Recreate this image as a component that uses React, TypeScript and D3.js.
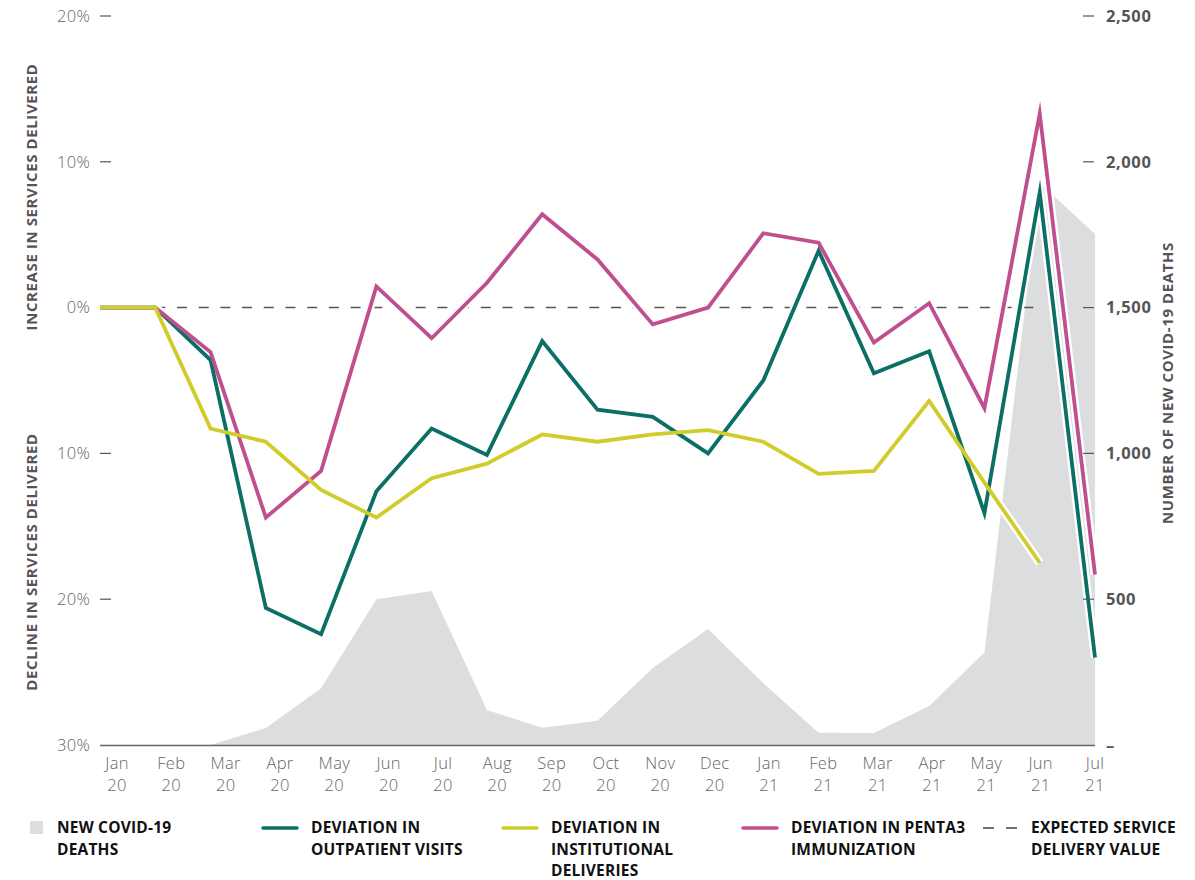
import React from 'react';
import * as d3 from 'd3';

const W = 1195;
const H = 880;

const months = [
  'Jan 20', 'Feb 20', 'Mar 20', 'Apr 20', 'May 20', 'Jun 20', 'Jul 20', 'Aug 20', 'Sep 20', 'Oct 20',
  'Nov 20', 'Dec 20', 'Jan 21', 'Feb 21', 'Mar 21', 'Apr 21', 'May 21', 'Jun 21', 'Jul 21',
];
// new covid-19 deaths per month (right axis)
const deaths = [0, 0, 0, 58, 195, 500, 528, 120, 59, 83, 264, 398, 212, 42, 41, 134, 317, 1927, 1752];
// % deviation from expected
const outpatient = [0, 0, -3.6, -20.6, -22.4, -12.6, -8.3, -10.1, -2.3, -7.0, -7.5, -10.0, -5.0, 3.9, -4.5, -3.0, -14.1, 7.9, -24.0];
const deliveries = [0, 0, -8.3, -9.2, -12.5, -14.4, -11.7, -10.7, -8.7, -9.2, -8.7, -8.4, -9.2, -11.4, -11.2, -6.4, -12.0, -17.5];
const penta3 = [0, 0, -3.05, -14.4, -11.2, 1.45, -2.1, 1.7, 6.4, 3.3, -1.15, 0, 5.1, 4.45, -2.4, 0.3, -6.9, 13.3, -18.3];

const pctTicks = [20, 10, 0, -10, -20, -30];
const deathTicks = [2500, 2000, 1500, 1000, 500, 0];
const deathTickLabels = ['2,500', '2,000', '1,500', '1,000', '500', '–'];

const TEAL = '#0b6f66';
const YELLOW = '#cfcc2b';
const PINK = '#bf4f8e';
const GREY = '#dcdddf';
const FONT = "'Open Sans', sans-serif";

const legend = [
  { kind: 'box', color: GREY, lines: ['NEW COVID-19', 'DEATHS'], x: 30 },
  { kind: 'line', color: TEAL, lines: ['DEVIATION IN', 'OUTPATIENT VISITS'], x: 263 },
  { kind: 'line', color: YELLOW, lines: ['DEVIATION IN', 'INSTITUTIONAL', 'DELIVERIES'], x: 503 },
  { kind: 'line', color: PINK, lines: ['DEVIATION IN PENTA3', 'IMMUNIZATION'], x: 743 },
  { kind: 'dash', color: '#444', lines: ['EXPECTED SERVICE', 'DELIVERY VALUE'], x: 983 },
];

export default function App() {
  const x = d3.scalePoint<string>().domain(months).range([100, 1095]);
  // month labels sit on a slightly narrower spacing than the data points
  const xl = d3.scalePoint<string>().domain(months).range([117, 1095]);
  const y = d3.scaleLinear().domain([-30, 20]).range([745, 16]);
  const yd = d3.scaleLinear().domain([0, 2500]).range([745, 16]);

  const area = d3
    .area<number>()
    .x((_, i) => x(months[i]) as number)
    .y0(yd(0))
    .y1((d) => yd(d));

  const line = d3
    .line<number>()
    .x((_, i) => x(months[i]) as number)
    .y((d) => y(d));

  const series = [
    { data: outpatient, color: TEAL },
    { data: penta3, color: PINK },
    { data: deliveries, color: YELLOW },
  ];

  return (
    <svg
      width={W}
      height={H}
      style={{ position: 'absolute', left: 0, top: 0, display: 'block', background: '#fff' }}
      fontFamily={FONT}
    >
      <path d={area(deaths) ?? ''} fill={GREY} />

      {/* expected value baseline */}
      <line
        x1={x('Feb 20')}
        x2={x('Jun 21')}
        y1={y(0)}
        y2={y(0)}
        stroke="#555"
        strokeWidth={1.5}
        strokeDasharray="10,11.7"
      />

      {/* white halos then lines */}
      {series.map((s, i) => (
        <path
          key={'h' + i}
          d={line(s.data) ?? ''}
          fill="none"
          stroke="#fff"
          strokeWidth={8.5}
          strokeLinejoin="miter"
          strokeMiterlimit={10}
        />
      ))}
      {series.map((s, i) => (
        <path
          key={'l' + i}
          d={line(s.data) ?? ''}
          fill="none"
          stroke={s.color}
          strokeWidth={3.8}
          strokeLinejoin="miter"
          strokeMiterlimit={10}
        />
      ))}

      {/* x axis */}
      <line x1={100} x2={1095} y1={745.5} y2={745.5} stroke="#666" strokeWidth={1.5} />
      {months.map((m) => {
        const [mo, yr] = m.split(' ');
        return (
          <text
            key={m}
            textAnchor="middle"
            fontSize={16.5}
            fontWeight={300}
            letterSpacing={0.3}
            fill="#666"
          >
            <tspan x={xl(m)} y={769}>{mo}</tspan>
            <tspan x={xl(m)} y={791}>{yr}</tspan>
          </text>
        );
      })}

      {/* left axis */}
      {pctTicks.map((t) => (
        <g key={t}>
          {t !== 0 && t !== -30 && (
            <line x1={100} x2={111} y1={y(t)} y2={y(t)} stroke="#555" strokeWidth={1.2} />
          )}
          <text
            x={90}
            y={y(t)}
            dy="0.35em"
            textAnchor="end"
            fontSize={16.5}
            fontWeight={300}
            letterSpacing={0.3}
            fill="#666"
          >
            {Math.abs(t)}%
          </text>
        </g>
      ))}
      <text
        transform={`translate(37,197) rotate(-90)`}
        textAnchor="middle"
        fontSize={15}
        fontWeight={700}
        letterSpacing={0.6}
        fill="#555"
      >
        INCREASE IN SERVICES DELIVERED
      </text>
      <text
        transform={`translate(37,562) rotate(-90)`}
        textAnchor="middle"
        fontSize={15}
        fontWeight={700}
        letterSpacing={0.6}
        fill="#555"
      >
        DECLINE IN SERVICES DELIVERED
      </text>

      {/* right axis */}
      {deathTicks.map((t, i) => (
        <g key={t}>
          {t !== 0 && <line x1={1083} x2={1094} y1={yd(t)} y2={yd(t)} stroke="#555" strokeWidth={1.2} />}
          <text x={1106} y={yd(t)} dy="0.35em" fontSize={16.5} fontWeight={700} letterSpacing={0.6} fill="#555">
            {deathTickLabels[i]}
          </text>
        </g>
      ))}
      <text
        transform={`translate(1173,383) rotate(-90)`}
        textAnchor="middle"
        fontSize={15}
        fontWeight={700}
        letterSpacing={0.6}
        fill="#555"
      >
        NUMBER OF NEW COVID-19 DEATHS
      </text>

      {/* legend */}
      {legend.map((l) => (
        <g key={l.lines[0] + l.x}>
          {l.kind === 'box' && <rect x={l.x} y={821} width={13} height={13} fill={l.color} />}
          {l.kind === 'line' && (
            <line x1={l.x} x2={l.x + 34} y1={828} y2={828} stroke={l.color} strokeWidth={3.5} strokeLinecap="round" />
          )}
          {l.kind === 'dash' && (
            <line x1={l.x} x2={l.x + 34} y1={828} y2={828} stroke={l.color} strokeWidth={1.5} strokeDasharray="11,12" />
          )}
          <text fontSize={15.5} fontWeight={700} letterSpacing={0.2} fill="#111">
            {l.lines.map((t, j) => (
              <tspan key={j} x={l.kind === 'box' ? 57 : l.x + 48} y={833 + j * 21.5}>
                {t}
              </tspan>
            ))}
          </text>
        </g>
      ))}
    </svg>
  );
}
